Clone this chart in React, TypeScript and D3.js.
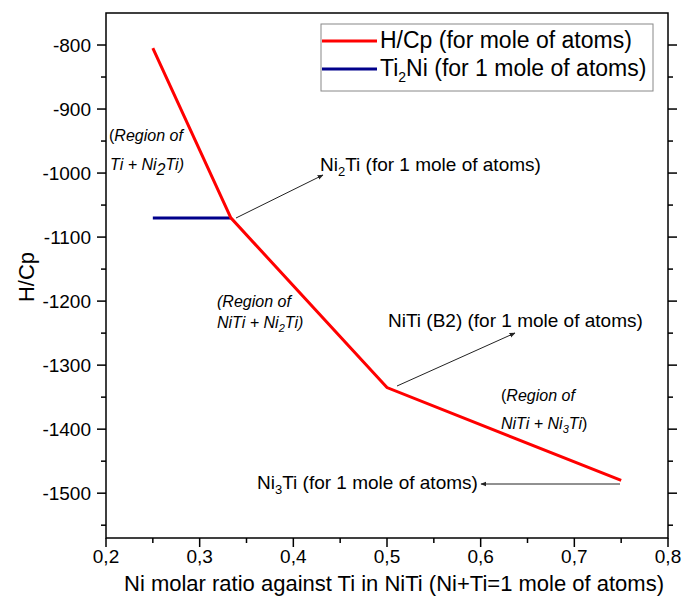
import React from "react";
import * as d3 from "d3";

const hcpX = [0.25, 0.3333, 0.5, 0.75];
const hcpY = [-805, -1070, -1335, -1480];
const ti2niX = [0.25, 0.3333];
const ti2niY = [-1070, -1070];
const xTicks = [0.2, 0.3, 0.4, 0.5, 0.6, 0.7, 0.8];
const yTicks = [-800, -900, -1000, -1100, -1200, -1300, -1400, -1500];

const W = 698, H = 597;
const M = { left: 106, right: 668, top: 13, bottom: 538 };
const FONT = "'Liberation Sans', Arial, sans-serif";

export default function App() {
  const x = d3.scaleLinear().domain([0.2, 0.8]).range([M.left, M.right]);
  const y = d3.scaleLinear().domain([-1570, -750]).range([M.bottom, M.top]);
  const line = d3.line<[number, number]>().x(d => x(d[0])).y(d => y(d[1]));
  const hcp = hcpX.map((v, i) => [v, hcpY[i]] as [number, number]);
  const ti2 = ti2niX.map((v, i) => [v, ti2niY[i]] as [number, number]);
  const xMinor = d3.range(0.25, 0.8, 0.1);
  const yMinor = d3.range(-1550, -750, 100);

  return (
    <svg width={W} height={H} style={{ position: "absolute", left: 0, top: 0, background: "#fff" }} fontFamily={FONT}>
      <defs>
        <marker id="ah" viewBox="0 0 10 10" refX="9" refY="5" markerWidth="6" markerHeight="6" orient="auto-start-reverse">
          <path d="M0,1 L10,5 L0,9 z" fill="#222" />
        </marker>
      </defs>
      <rect x={0} y={0} width={W} height={H} fill="#fff" />
      {/* frame */}
      <rect x={M.left} y={M.top} width={M.right - M.left} height={M.bottom - M.top} fill="none" stroke="#000" strokeWidth={1.5} />
      {/* x ticks */}
      {xTicks.map(t => (
        <g key={"xt" + t}>
          <line x1={x(t)} x2={x(t)} y1={M.bottom} y2={M.bottom + 9} stroke="#000" strokeWidth={1.5} />
          <text x={x(t)} y={M.bottom + 25} textAnchor="middle" fontSize={19}>{d3.format(".1f")(t).replace(".", ",")}</text>
        </g>
      ))}
      {xMinor.map(t => (
        <line key={"xm" + t} x1={x(t)} x2={x(t)} y1={M.bottom} y2={M.bottom + 5} stroke="#000" strokeWidth={1.5} />
      ))}
      {/* y ticks */}
      {yTicks.map(t => (
        <g key={"yt" + t}>
          <line x1={M.left - 9} x2={M.left} y1={y(t)} y2={y(t)} stroke="#000" strokeWidth={1.5} />
          <line x1={M.right} x2={M.right + 9} y1={y(t)} y2={y(t)} stroke="#000" strokeWidth={1.5} />
          <text x={M.left - 15} y={y(t) + 7} textAnchor="end" fontSize={19}>{t}</text>
        </g>
      ))}
      {yMinor.map(t => (
        <g key={"ym" + t}>
          <line x1={M.left - 5} x2={M.left} y1={y(t)} y2={y(t)} stroke="#000" strokeWidth={1.5} />
          <line x1={M.right} x2={M.right + 5} y1={y(t)} y2={y(t)} stroke="#000" strokeWidth={1.5} />
        </g>
      ))}
      {/* axis titles */}
      <text x={394} y={591} textAnchor="middle" fontSize={22}>Ni molar ratio against Ti in NiTi (Ni+Ti=1 mole of atoms)</text>
      <text transform="translate(34,277) rotate(-90)" textAnchor="middle" fontSize={22}>H/Cp</text>

      {/* data */}
      <path d={line(ti2) || ""} fill="none" stroke="#00008b" strokeWidth={3} />
      <path d={line(hcp) || ""} fill="none" stroke="#ff0000" strokeWidth={3} />

      {/* annotations */}
      <line x1={236} y1={218} x2={323} y2={175} stroke="#222" strokeWidth={1} markerEnd="url(#ah)" />
      <text x={320} y={171} fontSize={19}>Ni<tspan dy={5} fontSize={13}>2</tspan><tspan dy={-5}>Ti (for 1 mole of atoms)</tspan></text>

      <line x1={397} y1={386} x2={515} y2={333} stroke="#222" strokeWidth={1} markerEnd="url(#ah)" />
      <text x={388} y={327} fontSize={19}>NiTi (B2) (for 1 mole of atoms)</text>

      <line x1={620} y1={484} x2={481} y2={484} stroke="#222" strokeWidth={1} markerEnd="url(#ah)" />
      <text x={257} y={489} fontSize={19}>Ni<tspan dy={5} fontSize={13}>3</tspan><tspan dy={-5}>Ti (for 1 mole of atoms)</tspan></text>

      <text x={109} y={141} fontSize={16}>(<tspan fontStyle="italic">Region of</tspan></text>
      <text x={110} y={170} fontSize={16} fontStyle="italic">Ti + Ni<tspan dy={5} fontSize={16}>2</tspan><tspan dy={-5}>Ti)</tspan></text>

      <text x={217} y={307} fontSize={16} fontStyle="italic">(Region of</text>
      <text x={217} y={328} fontSize={16} fontStyle="italic">NiTi + Ni<tspan dy={4} fontSize={11}>2</tspan><tspan dy={-4}>Ti)</tspan></text>

      <text x={501} y={401} fontSize={16}>(<tspan fontStyle="italic">Region of</tspan></text>
      <text x={501} y={429} fontSize={16} fontStyle="italic">NiTi + Ni<tspan dy={4} fontSize={11}>3</tspan><tspan dy={-4}>Ti</tspan><tspan fontStyle="normal">)</tspan></text>

      {/* legend */}
      <rect x={321} y={24} width={332} height={67} fill="#fff" stroke="#888" strokeWidth={1} />
      <line x1={322} x2={377} y1={41} y2={41} stroke="#ff0000" strokeWidth={3} />
      <text x={380} y={48} fontSize={23}>H/Cp (for mole of atoms)</text>
      <line x1={322} x2={377} y1={69} y2={69} stroke="#00008b" strokeWidth={3} />
      <text x={380} y={76} fontSize={23}>Ti<tspan dy={6} fontSize={14}>2</tspan><tspan dy={-6}>Ni (for 1 mole of atoms)</tspan></text>
    </svg>
  );
}
